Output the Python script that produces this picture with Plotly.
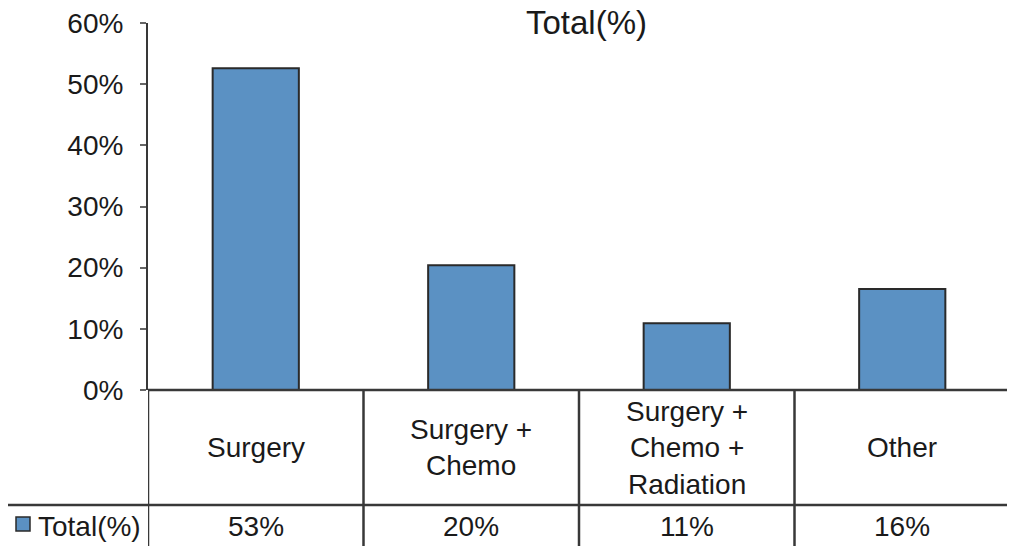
import plotly.graph_objects as go

categories = ["Surgery", "Surgery +<br>Chemo", "Surgery +<br>Chemo +<br>Radiation", "Other"]
values = [52.6, 20.4, 10.9, 16.5]
table_labels = ["53%", "20%", "11%", "16%"]
series_name = "Total(%)"
y_ticks = [0, 10, 20, 30, 40, 50, 60]
y_tick_text = [f"{v}%" for v in y_ticks]

# page is offset by the 8px default body margin
OFF = 8
PAGE_W, PAGE_H = 1015, 546
LEFT, RIGHT, TOP, BOTTOM = 148, 1010, 23, 390  # plot area in page pixels
W, H = PAGE_W - OFF, PAGE_H - OFF
PW, PH = RIGHT - LEFT, BOTTOM - TOP

def py(pix):
    return (BOTTOM - pix) / PH

def px(pix):
    return (pix - LEFT) / PW

FONT = "Liberation Sans, Arial, sans-serif"
LINE = "#383838"
BAR = "#5b91c3"
TXT = "#1a1a1a"
FS = 28

xs = list(range(len(categories)))
fig = go.Figure()
fig.add_trace(go.Bar(x=xs, y=values, marker=dict(color=BAR, line=dict(color="#2a2a2a", width=2)),
                     width=0.4, showlegend=False, hoverinfo="skip"))

fig.update_layout(
    width=W, height=H,
    margin=dict(l=LEFT - OFF, r=W - (RIGHT - OFF), t=TOP - OFF, b=H - (BOTTOM - OFF), autoexpand=False),
    paper_bgcolor="white", plot_bgcolor="white",
    font=dict(family=FONT, size=FS, color=TXT),
    xaxis=dict(range=[-0.5, len(categories) - 0.5], showticklabels=False, showgrid=False,
               zeroline=False, showline=False, ticks=""),
    yaxis=dict(range=[0, 60.001], tickvals=y_ticks, ticktext=y_tick_text, showgrid=False, zeroline=False,
               showline=True, linecolor=LINE, linewidth=2, ticks="outside", ticklen=6,
               tickcolor="#666", tickwidth=2, ticklabelstandoff=11, ticklabeloverflow="allow",
               tickfont=dict(size=FS, family=FONT, color=TXT)),
)

shapes = []
shapes.append(dict(type="line", xref="paper", yref="paper", x0=0, x1=1, y0=0, y1=0,
                   line=dict(color=LINE, width=2.5)))
for i in range(len(categories) + 1):
    shapes.append(dict(type="line", xref="x", yref="paper", x0=i - 0.5, x1=i - 0.5,
                       y0=0, y1=py(PAGE_H), line=dict(color=LINE, width=2.5)))
shapes.append(dict(type="line", xref="paper", yref="paper", x0=px(5), x1=1,
                   y0=py(505), y1=py(505), line=dict(color=LINE, width=2.5)))
shapes.append(dict(type="line", xref="paper", yref="paper", x0=px(5), x1=px(5),
                   y0=py(505), y1=py(PAGE_H), line=dict(color=LINE, width=2.5)))
shapes.append(dict(type="rect", xref="paper", yref="paper", x0=px(16), x1=px(30),
                   y0=py(531), y1=py(517), fillcolor=BAR, line=dict(color="#2a2a2a", width=1.5)))
fig.update_layout(shapes=shapes)

ann = []
for i, c in enumerate(categories):
    ann.append(dict(x=i, xref="x", y=py(448), yref="paper", text=c, showarrow=False,
                    font=dict(size=FS, family=FONT, color=TXT), align="center",
                    xanchor="center", yanchor="middle"))
    ann.append(dict(x=i, xref="x", y=py(526), yref="paper", text=table_labels[i], showarrow=False,
                    font=dict(size=FS, family=FONT, color=TXT),
                    xanchor="center", yanchor="middle"))
ann.append(dict(x=px(36), xref="paper", y=py(526), yref="paper", text=series_name, showarrow=False,
                font=dict(size=FS, family=FONT, color=TXT), xanchor="left", yanchor="middle"))
ann.append(dict(x=px(586), xref="paper", y=py(22), yref="paper", text="Total(%)", showarrow=False,
                font=dict(size=33, family=FONT, color=TXT), xanchor="center", yanchor="middle"))
fig.update_layout(annotations=ann)

fig.write_html("out.html")
